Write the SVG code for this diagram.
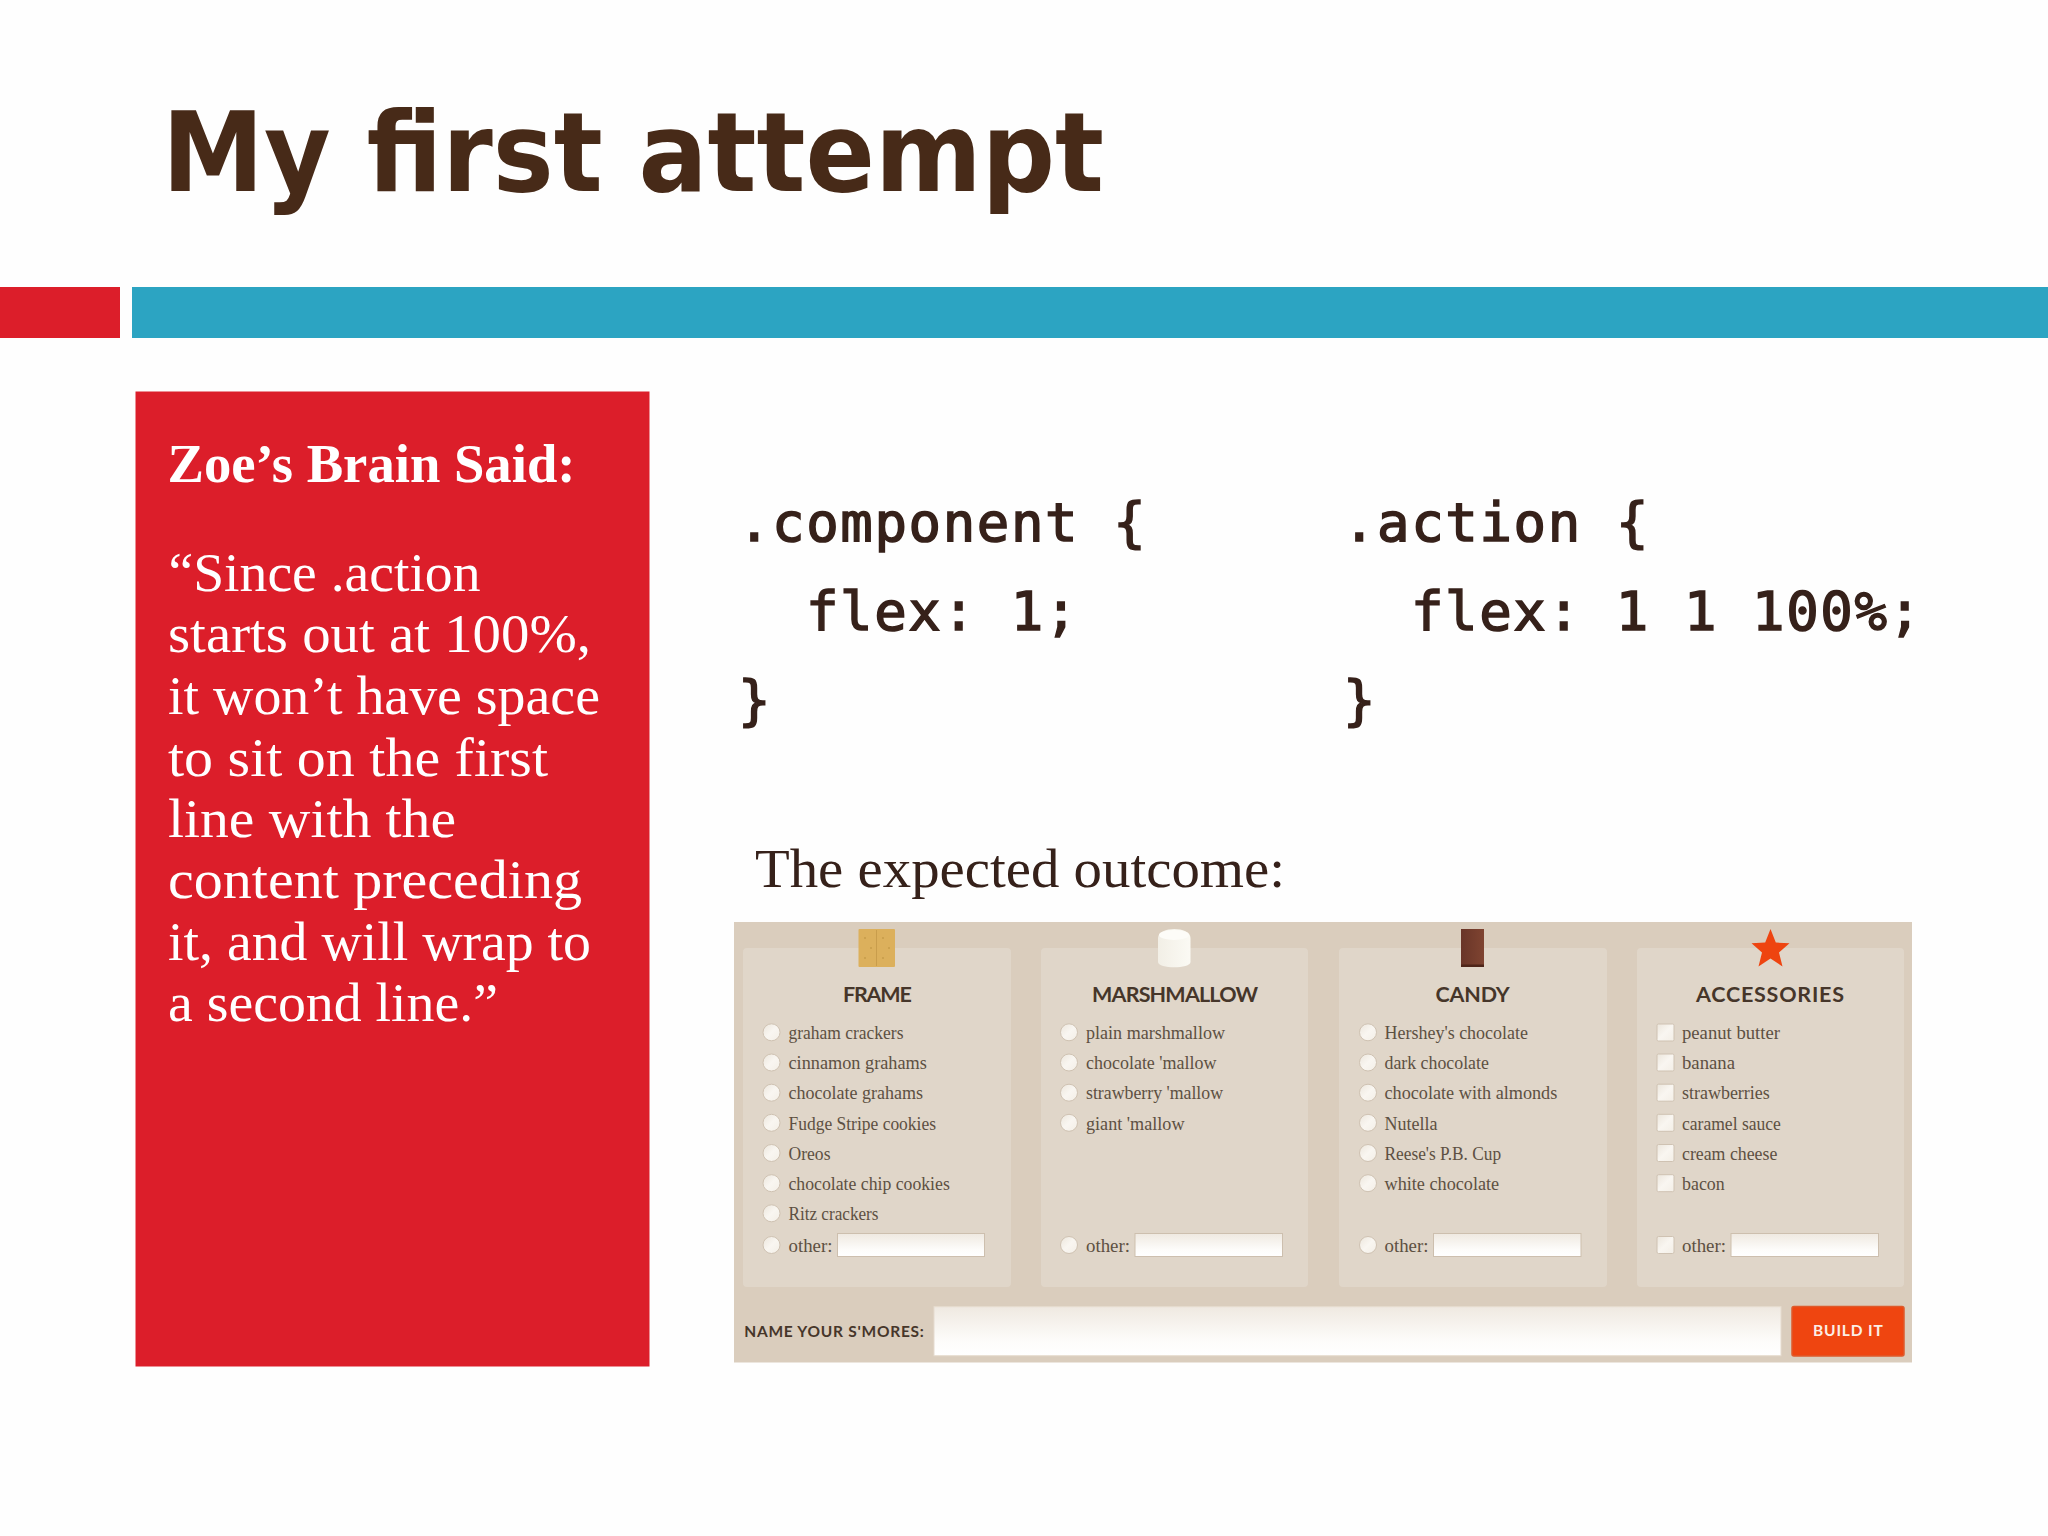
<svg xmlns="http://www.w3.org/2000/svg" width="2048" height="1536" viewBox="0 0 2048 1536">
<defs>
<linearGradient id="inp" x1="0" y1="0" x2="0" y2="1"><stop offset="0" stop-color="#efe9e1"/><stop offset="0.7" stop-color="#fdfcfa"/><stop offset="1" stop-color="#ffffff"/></linearGradient>
<linearGradient id="tick" x1="0" y1="0" x2="1" y2="1"><stop offset="0" stop-color="#ece6dc"/><stop offset="0.5" stop-color="#f9f6f1"/><stop offset="1" stop-color="#f3eee6"/></linearGradient>
<linearGradient id="mallow" x1="0" y1="0" x2="1" y2="0"><stop offset="0" stop-color="#f2efe6"/><stop offset="1" stop-color="#fbfaf4"/></linearGradient>
<linearGradient id="choc" x1="0" y1="0" x2="1" y2="0"><stop offset="0" stop-color="#693528"/><stop offset="1" stop-color="#7f4431"/></linearGradient>
</defs>
<style>
.title{font-family:"DejaVu Sans",sans-serif;font-weight:700;font-size:111px;fill:#472a18}
.said{font-family:"Liberation Serif",serif;font-size:55px;fill:#fff}
.saidb{font-family:"Liberation Serif",serif;font-size:54px;font-weight:700;fill:#fff}
.code{font-family:"DejaVu Sans Mono",monospace;font-size:54px;letter-spacing:1.6px;fill:#36211a;stroke:#36211a;stroke-width:1.5px}
.lead{font-family:"Liberation Serif",serif;font-size:55px;fill:#36211a}
.h{font-family:Lato,sans-serif;font-weight:700;font-size:21.5px;fill:#46362a}
.i{font-family:"Liberation Serif",serif;font-size:18px;fill:#5d5042}
.card{fill:#e0d6c9}
.r{fill:url(#tick);stroke:#cfc2b2;stroke-width:1}
.in{fill:url(#inp);stroke:#cdbfae;stroke-width:1}
.lab{font-family:Lato,sans-serif;font-weight:700;font-size:15.5px;fill:#46362a}
.btn{font-family:Lato,sans-serif;font-weight:700;font-size:15.5px;fill:#fbeee6}
</style>
<rect width="2048" height="1536" fill="#fefefe"/>
<g id="title"><text class="title" x="162" y="191" textLength="942" lengthAdjust="spacingAndGlyphs">My first attempt</text></g>
<g id="bars">
<rect x="0" y="287" width="120" height="51" fill="#dc1e2a"/>
<rect x="132" y="287" width="1916" height="51" fill="#2ca4c2"/>
</g>
<g id="brain">
<rect x="135.500" y="391.500" width="514" height="975" fill="#dc1e2a"/>
<text class="saidb" x="167.500" y="482" textLength="408" lengthAdjust="spacingAndGlyphs">Zoe’s Brain Said:</text>
<text class="said" x="168.500" y="590.500" textLength="312" lengthAdjust="spacingAndGlyphs">“Since .action</text>
<text class="said" x="168" y="652" textLength="423" lengthAdjust="spacingAndGlyphs">starts out at 100%,</text>
<text class="said" x="168" y="713.500" textLength="432" lengthAdjust="spacingAndGlyphs">it won’t have space</text>
<text class="said" x="168" y="775.500" textLength="380" lengthAdjust="spacingAndGlyphs">to sit on the first</text>
<text class="said" x="168" y="837" textLength="288" lengthAdjust="spacingAndGlyphs">line with the</text>
<text class="said" x="168" y="898" textLength="414" lengthAdjust="spacingAndGlyphs">content preceding</text>
<text class="said" x="168" y="959.500" textLength="423" lengthAdjust="spacingAndGlyphs">it, and will wrap to</text>
<text class="said" x="168" y="1021" textLength="330" lengthAdjust="spacingAndGlyphs">a second line.”</text>
</g>
<g id="code-component">
<text class="code" x="738" y="541">.component {</text>
<text class="code" x="806" y="629.500">flex: 1;</text>
<text class="code" x="738" y="718.500">}</text>
</g>
<g id="code-action">
<text class="code" x="1343" y="541">.action {</text>
<text class="code" x="1411" y="629.500">flex: 1 1 100%;</text>
<text class="code" x="1343" y="718.500">}</text>
</g>
<g id="lead"><text class="lead" x="755" y="887" textLength="530" lengthAdjust="spacingAndGlyphs">The expected outcome:</text></g>
<g id="form">
<rect x="734" y="922" width="1178" height="440.500" fill="#dacdbd"/>
</g>
<g id="col-frame">
<rect class="card" x="743" y="948" width="268" height="339" rx="4"/>
<rect x="858.500" y="929" width="36.500" height="38" rx="1" fill="#dcb05c"/>
<line x1="876.500" y1="930" x2="876.500" y2="966" stroke="#c99d4c" stroke-width="1"/>
<g fill="#b98d3f"><circle cx="865" cy="938" r="0.800"/><circle cx="871" cy="948" r="0.800"/><circle cx="883" cy="938" r="0.800"/><circle cx="889" cy="948" r="0.800"/><circle cx="865" cy="958" r="0.800"/><circle cx="883" cy="958" r="0.800"/></g>
<text class="h" x="843" y="1001.500" textLength="68.800" lengthAdjust="spacing">FRAME</text>
<circle class="r" cx="771.500" cy="1032.300" r="8.500"/><text class="i" x="788.500" y="1039" textLength="115" lengthAdjust="spacingAndGlyphs">graham crackers</text>
<circle class="r" cx="771.500" cy="1062.500" r="8.500"/><text class="i" x="788.500" y="1069" textLength="138.400" lengthAdjust="spacingAndGlyphs">cinnamon grahams</text>
<circle class="r" cx="771.500" cy="1092.700" r="8.500"/><text class="i" x="788.500" y="1099.300" textLength="134.400" lengthAdjust="spacingAndGlyphs">chocolate grahams</text>
<circle class="r" cx="771.500" cy="1122.800" r="8.500"/><text class="i" x="788.500" y="1129.500" textLength="147.500" lengthAdjust="spacingAndGlyphs">Fudge Stripe cookies</text>
<circle class="r" cx="771.500" cy="1153" r="8.500"/><text class="i" x="788.500" y="1159.700" textLength="42" lengthAdjust="spacingAndGlyphs">Oreos</text>
<circle class="r" cx="771.500" cy="1183.200" r="8.500"/><text class="i" x="788.500" y="1189.800" textLength="161.300" lengthAdjust="spacingAndGlyphs">chocolate chip cookies</text>
<circle class="r" cx="771.500" cy="1213.300" r="8.500"/><text class="i" x="788.500" y="1220" textLength="90" lengthAdjust="spacingAndGlyphs">Ritz crackers</text>
<circle class="r" cx="771.500" cy="1245" r="8.500"/><text class="i" x="788.500" y="1251.500" textLength="44" lengthAdjust="spacingAndGlyphs">other:</text>
<rect class="in" x="837.500" y="1233.500" width="147" height="23"/>
</g>
<g id="col-marshmallow">
<rect class="card" x="1041" y="948" width="267" height="339" rx="4"/>
<path d="M1158 938 C1158 926 1190.500 926 1190.500 938 L1190.500 962 C1190.500 969 1158 969 1158 962 Z" fill="url(#mallow)"/>
<ellipse cx="1174" cy="935" rx="15" ry="5" fill="#fdfcf8"/>
<text class="h" x="1092" y="1001.500" textLength="166" lengthAdjust="spacing">MARSHMALLOW</text>
<circle class="r" cx="1069" cy="1032.300" r="8.500"/><text class="i" x="1086" y="1039" textLength="139" lengthAdjust="spacingAndGlyphs">plain marshmallow</text>
<circle class="r" cx="1069" cy="1062.500" r="8.500"/><text class="i" x="1086" y="1069" textLength="130.500" lengthAdjust="spacingAndGlyphs">chocolate 'mallow</text>
<circle class="r" cx="1069" cy="1092.700" r="8.500"/><text class="i" x="1086" y="1099.300" textLength="137" lengthAdjust="spacingAndGlyphs">strawberry 'mallow</text>
<circle class="r" cx="1069" cy="1122.800" r="8.500"/><text class="i" x="1086" y="1129.500" textLength="98.500" lengthAdjust="spacingAndGlyphs">giant 'mallow</text>
<circle class="r" cx="1069" cy="1245" r="8.500"/><text class="i" x="1086" y="1251.500" textLength="44" lengthAdjust="spacingAndGlyphs">other:</text>
<rect class="in" x="1135" y="1233.500" width="147.500" height="23"/>
</g>
<g id="col-candy">
<rect class="card" x="1339" y="948" width="268" height="339" rx="4"/>
<rect x="1461" y="929" width="23" height="38" fill="url(#choc)"/>
<rect x="1461" y="964.500" width="23" height="2.500" fill="#4e2519"/>
<text class="h" x="1435.500" y="1001.500" textLength="74.300" lengthAdjust="spacing">CANDY</text>
<circle class="r" cx="1368" cy="1032.300" r="8.500"/><text class="i" x="1384.500" y="1039" textLength="143.500" lengthAdjust="spacingAndGlyphs">Hershey's chocolate</text>
<circle class="r" cx="1368" cy="1062.500" r="8.500"/><text class="i" x="1384.500" y="1069" textLength="104.400" lengthAdjust="spacingAndGlyphs">dark chocolate</text>
<circle class="r" cx="1368" cy="1092.700" r="8.500"/><text class="i" x="1384.500" y="1099.300" textLength="172.800" lengthAdjust="spacingAndGlyphs">chocolate with almonds</text>
<circle class="r" cx="1368" cy="1122.800" r="8.500"/><text class="i" x="1384.500" y="1129.500" textLength="53" lengthAdjust="spacingAndGlyphs">Nutella</text>
<circle class="r" cx="1368" cy="1153" r="8.500"/><text class="i" x="1384.500" y="1159.700" textLength="116.600" lengthAdjust="spacingAndGlyphs">Reese's P.B. Cup</text>
<circle class="r" cx="1368" cy="1183.200" r="8.500"/><text class="i" x="1384.500" y="1189.800" textLength="114.700" lengthAdjust="spacingAndGlyphs">white chocolate</text>
<circle class="r" cx="1368" cy="1245" r="8.500"/><text class="i" x="1384.500" y="1251.500" textLength="44" lengthAdjust="spacingAndGlyphs">other:</text>
<rect class="in" x="1433.500" y="1233.500" width="147.500" height="23"/>
</g>
<g id="col-accessories">
<rect class="card" x="1637" y="948" width="267" height="339" rx="4"/>
<polygon points="1770.500,929 1775.800,942.500 1789.500,943.300 1779,952.500 1782.500,966.500 1770.500,958.500 1758.500,966.500 1762,952.500 1751.500,943.300 1765.200,942.500" fill="#ee4410"/>
<text class="h" x="1696" y="1001.500" textLength="148" lengthAdjust="spacing">ACCESSORIES</text>
<rect class="r" x="1657" y="1024" width="17" height="17" rx="1.500"/><text class="i" x="1682" y="1039" textLength="98" lengthAdjust="spacingAndGlyphs">peanut butter</text>
<rect class="r" x="1657" y="1054" width="17" height="17" rx="1.500"/><text class="i" x="1682" y="1069" textLength="53" lengthAdjust="spacingAndGlyphs">banana</text>
<rect class="r" x="1657" y="1084.200" width="17" height="17" rx="1.500"/><text class="i" x="1682" y="1099.300" textLength="87.800" lengthAdjust="spacingAndGlyphs">strawberries</text>
<rect class="r" x="1657" y="1114.300" width="17" height="17" rx="1.500"/><text class="i" x="1682" y="1129.500" textLength="98.900" lengthAdjust="spacingAndGlyphs">caramel sauce</text>
<rect class="r" x="1657" y="1144.500" width="17" height="17" rx="1.500"/><text class="i" x="1682" y="1159.700" textLength="95.300" lengthAdjust="spacingAndGlyphs">cream cheese</text>
<rect class="r" x="1657" y="1174.700" width="17" height="17" rx="1.500"/><text class="i" x="1682" y="1189.800" textLength="42.700" lengthAdjust="spacingAndGlyphs">bacon</text>
<rect class="r" x="1657" y="1236.500" width="17" height="17" rx="1.500"/><text class="i" x="1682" y="1251.500" textLength="44" lengthAdjust="spacingAndGlyphs">other:</text>
<rect class="in" x="1731" y="1233.500" width="147.500" height="23"/>
</g>
<g id="name-bar">
<text class="lab" x="744.200" y="1336.500" textLength="179.600" lengthAdjust="spacing">NAME YOUR S'MORES:</text>
<rect x="934" y="1306.700" width="847" height="49" fill="url(#inp)" stroke="#e6dccf" stroke-width="1"/>
</g>
<g id="build-it">
<rect x="1792" y="1306.500" width="112" height="49.500" rx="2" fill="#ef4510" stroke="#de5a2b" stroke-width="1.500"/>
<text class="btn" x="1813" y="1335.700" textLength="69.700" lengthAdjust="spacing">BUILD IT</text>
</g>
</svg>
